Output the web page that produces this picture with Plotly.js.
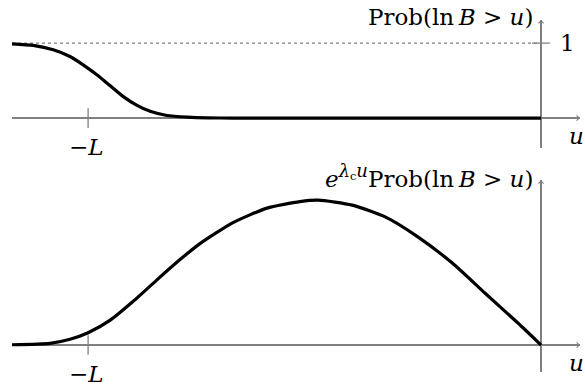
<!DOCTYPE html>
<html>
<head>
<meta charset="utf-8">
<script src="https://cdn.plot.ly/plotly-3.0.1.min.js"></script>
<style>
  html, body { margin: 0; padding: 0; background: #ffffff; }
  #chart { width: 585px; height: 388px; }
</style>
</head>
<body>
<div id="chart"></div>
<script>
// u measured in units of L (so the -L tick sits at -1)
const uTop = [-1.168, -1.121, -1.077, -1.040, -1.011, -0.980, -0.951, -0.923, -0.892, -0.863, -0.826, -0.781, -0.737, -0.680, -0.532, -0.311, 0];
const probTop = [0.99, 0.968, 0.91, 0.82, 0.71, 0.575, 0.43, 0.29, 0.17, 0.09, 0.035, 0.013, 0.003, 0.001, 0, 0, 0];

const uBottom = [-1.168, -1.084, -1.040, -1.000, -0.951, -0.901, -0.848, -0.797, -0.753, -0.680, -0.605, -0.532, -0.492, -0.417, -0.344, -0.272, -0.196, -0.124, -0.051, 0];
const weightedProb = [0.002, 0.012, 0.04, 0.085, 0.172, 0.30, 0.45, 0.59, 0.70, 0.845, 0.945, 0.99, 1.0, 0.966, 0.885, 0.747, 0.566, 0.359, 0.152, 0];

// reference level Prob = 1 and the -L mark
const refU = [-1.168, 0];
const refProb = [1, 1];
const tickU = [-1];
const tickLabel = '\u2212<i>L</i>';

const uRange = [-1.168, 0.086];
const topRange = [-0.4, 1.307];
const bottomRange = [-0.186, 1.138];

const axisGray = '#808080';
const textFont = { family: 'DejaVu Serif, serif', size: 23, color: '#000000' };

const traces = [
  {
    x: refU, y: refProb, xaxis: 'x', yaxis: 'y',
    mode: 'lines', line: { color: '#808080', width: 1.2, dash: 'dot' },
    hoverinfo: 'skip'
  },
  {
    x: [0], y: [1], xaxis: 'x', yaxis: 'y',
    mode: 'markers',
    marker: { symbol: 'line-ew', size: 13, line: { color: axisGray, width: 1.3 } },
    hoverinfo: 'skip'
  },
  {
    x: tickU, y: [0], xaxis: 'x', yaxis: 'y',
    mode: 'markers',
    marker: { symbol: 'line-ns', size: 14, line: { color: axisGray, width: 1.3 } },
    hoverinfo: 'skip'
  },
  {
    x: tickU, y: [0], xaxis: 'x2', yaxis: 'y2',
    mode: 'markers',
    marker: { symbol: 'line-ns', size: 14, line: { color: axisGray, width: 1.3 } },
    hoverinfo: 'skip'
  },
  {
    x: uTop, y: probTop, xaxis: 'x', yaxis: 'y',
    mode: 'lines', line: { color: '#000000', width: 3.2, shape: 'spline', smoothing: 0.6 },
    hoverinfo: 'skip'
  },
  {
    x: uBottom, y: weightedProb, xaxis: 'x2', yaxis: 'y2',
    mode: 'lines', line: { color: '#000000', width: 3.2, shape: 'spline', smoothing: 0.6 },
    hoverinfo: 'skip'
  }
];

const plainAxis = {
  showgrid: false, showticklabels: false, ticks: '', showline: false,
  zeroline: true, zerolinecolor: axisGray, zerolinewidth: 1.3, fixedrange: true
};

function arrow(xref, yref, x, y, ax, ay) {
  return {
    xref: xref, yref: yref, axref: xref, ayref: yref,
    x: x, y: y, ax: ax, ay: ay, text: '',
    showarrow: true, arrowhead: 4, arrowsize: 1, arrowwidth: 1, arrowcolor: axisGray
  };
}

const annotations = [
  arrow('x', 'y', uRange[1], 0, uRange[1] - 0.02, 0),
  arrow('x', 'y', 0, topRange[1], 0, topRange[1] - 0.1),
  arrow('x2', 'y2', uRange[1], 0, uRange[1] - 0.02, 0),
  arrow('x2', 'y2', 0, bottomRange[1], 0, bottomRange[1] - 0.05),
  {
    xref: 'x', yref: 'y', x: 0, y: topRange[1], xanchor: 'right', yanchor: 'middle',
    xshift: -6, yshift: 3, showarrow: false, font: textFont,
    text: 'Prob(ln\u2009<i>B</i> &gt; <i>u</i>)'
  },
  {
    xref: 'x', yref: 'y', x: 0, y: 1, xanchor: 'left', yanchor: 'middle',
    xshift: 17, showarrow: false, font: textFont, text: '1'
  },
  {
    xref: 'x', yref: 'y', x: uRange[1], y: 0, xanchor: 'center', yanchor: 'top',
    xshift: -4, yshift: -3, showarrow: false, font: textFont, text: '<i>u</i>'
  },
  {
    xref: 'x', yref: 'y', x: tickU[0], y: 0, xanchor: 'center', yanchor: 'top',
    xshift: -2, yshift: -14, showarrow: false, font: textFont, text: tickLabel
  },
  {
    xref: 'x2', yref: 'y2', x: 0, y: bottomRange[1], xanchor: 'right', yanchor: 'middle',
    xshift: -6, yshift: 4, showarrow: false, font: textFont,
    text: '<i>e</i><sup><span style="font-size:18px"><i>\u03bb</i></span><sub>c</sub><span style="font-size:18px"><i>u</i></span></sup>Prob(ln\u2009<i>B</i> &gt; <i>u</i>)'
  },
  {
    xref: 'x2', yref: 'y2', x: uRange[1], y: 0, xanchor: 'center', yanchor: 'top',
    xshift: -4, yshift: -3, showarrow: false, font: textFont, text: '<i>u</i>'
  },
  {
    xref: 'x2', yref: 'y2', x: tickU[0], y: 0, xanchor: 'center', yanchor: 'top',
    xshift: -2, yshift: -14, showarrow: false, font: textFont, text: tickLabel
  }
];

const layout = {
  width: 585,
  height: 388,
  margin: { l: 12, r: 5, t: 20, b: 16 },
  paper_bgcolor: '#ffffff',
  plot_bgcolor: '#ffffff',
  showlegend: false,
  font: textFont,
  xaxis: Object.assign({}, plainAxis, { range: uRange, anchor: 'y' }),
  yaxis: Object.assign({}, plainAxis, { range: topRange, domain: [0.636, 1], anchor: 'x' }),
  xaxis2: Object.assign({}, plainAxis, { range: uRange, anchor: 'y2' }),
  yaxis2: Object.assign({}, plainAxis, { range: bottomRange, domain: [0, 0.545], anchor: 'x2' }),
  annotations: annotations
};

Plotly.newPlot('chart', traces, layout, { staticPlot: true, displayModeBar: false });
</script>
</body>
</html>
